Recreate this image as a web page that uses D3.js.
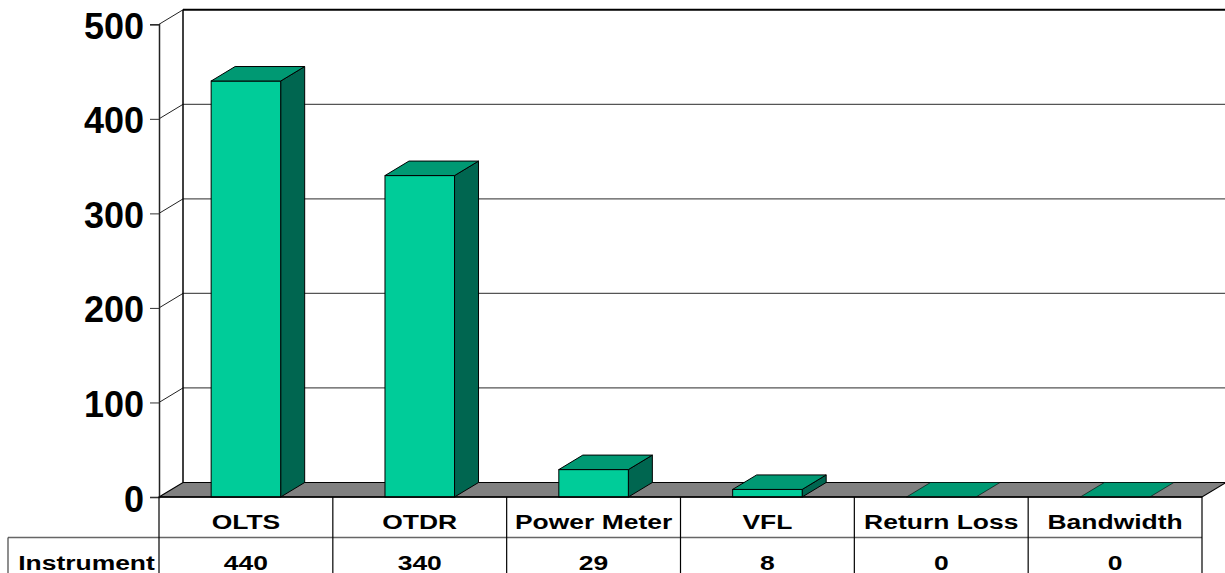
<!DOCTYPE html>
<meta charset="utf-8">
<script src="https://d3js.org/d3.v7.min.js"></script>
<style>
  body { margin: 0; background: #fff; }
  text { font-family: "Liberation Sans", Arial, sans-serif; font-weight: bold; fill: #000; }
</style>
<body>
<div id="chart"></div>
<script>
var categories = ["OLTS", "OTDR", "Power Meter", "VFL", "Return Loss", "Bandwidth"];
var values = [440, 340, 29, 8, 0, 0];
var seriesName = "Instrument";
var yTicks = [0, 100, 200, 300, 400, 500];

var W = 1225, H = 573;
var left = 159, right = 1202, floorY = 497, topY = 24.3;
var dx = 24, dy = -14.5;      // 3d depth offset
var rowMid = 537.5;

var svg = d3.select("#chart").append("svg")
  .attr("width", W).attr("height", H);

var x = d3.scaleBand().domain(categories).range([left, right]);
var y = d3.scaleLinear().domain([0, 500]).range([floorY, topY]);

// back wall gridlines
svg.selectAll(".grid")
  .data(yTicks.filter(function(t) { return t > 0 && t < 500; }))
  .enter().append("line")
    .attr("x1", left + dx).attr("x2", W)
    .attr("y1", function(d) { return y(d) + dy; })
    .attr("y2", function(d) { return y(d) + dy; })
    .attr("stroke", "#555").attr("stroke-width", 1.2);

// side wall diagonals
svg.selectAll(".diag")
  .data(yTicks.filter(function(t) { return t > 0; }))
  .enter().append("line")
    .attr("x1", left).attr("x2", left + dx)
    .attr("y1", function(d) { return y(d); })
    .attr("y2", function(d) { return y(d) + dy; })
    .attr("stroke", "#222").attr("stroke-width", 1);

// top of back wall
svg.append("line")
  .attr("x1", left + dx).attr("x2", W)
  .attr("y1", y(500) + dy).attr("y2", y(500) + dy)
  .attr("stroke", "#000").attr("stroke-width", 2);

// back wall left edge
svg.append("line")
  .attr("x1", left + dx).attr("x2", left + dx)
  .attr("y1", y(500) + dy).attr("y2", y(0) + dy)
  .attr("stroke", "#000").attr("stroke-width", 1.5);

// floor
svg.append("polygon")
  .attr("points", [[left, floorY], [left + dx, floorY + dy], [right + dx, floorY + dy], [right, floorY]].join(" "))
  .attr("fill", "#808080").attr("stroke", "#000").attr("stroke-width", 1.2);

// y axis
var yAxis = svg.append("g")
  .attr("transform", "translate(" + left + ",0)")
  .call(d3.axisLeft(y).tickValues(yTicks).tickSize(9).tickPadding(6));
yAxis.select(".domain").attr("stroke", "#222").attr("stroke-width", 1.5);
yAxis.selectAll(".tick line").attr("stroke", "#333");
yAxis.selectAll(".tick text")
  .attr("font-size", "36px")
  .attr("dy", "0.39em")
  .style("font-family", '"Liberation Sans", Arial, sans-serif')
  .style("font-weight", "bold");

// bars
var bw = x.bandwidth() * 0.4;
var bars = svg.selectAll(".bar")
  .data(categories.map(function(c, i) { return { name: c, value: values[i] }; }))
  .enter().append("g");

bars.each(function(d) {
  var g = d3.select(this);
  var x0 = x(d.name) + (x.bandwidth() - bw) / 2, x1 = x0 + bw;
  var yv = y(d.value), yb = y(0);
  if (d.value > 0) {
    g.append("polygon")
      .attr("points", [[x1, yv], [x1 + dx, yv + dy], [x1 + dx, yb + dy], [x1, yb]].join(" "))
      .attr("fill", "#006650").attr("stroke", "#000").attr("stroke-width", 1);
    g.append("rect")
      .attr("x", x0).attr("y", yv).attr("width", bw).attr("height", yb - yv)
      .attr("fill", "#00CC99").attr("stroke", "#000").attr("stroke-width", 1);
  }
  g.append("polygon")
    .attr("points", [[x0, yv], [x0 + dx, yv + dy], [x1 + dx, yv + dy], [x1, yv]].join(" "))
    .attr("fill", "#009973").attr("stroke", "#000").attr("stroke-width", d.value > 0 ? 1 : 0.6);
});

// data table
var bounds = categories.map(function(c) { return x(c); }).concat([right]);
svg.append("line")
  .attr("x1", left).attr("x2", right).attr("y1", floorY).attr("y2", floorY)
  .attr("stroke", "#000").attr("stroke-width", 1.5);
svg.append("line")
  .attr("x1", 8).attr("x2", right).attr("y1", rowMid).attr("y2", rowMid)
  .attr("stroke", "#666").attr("stroke-width", 1.5);
svg.append("line")
  .attr("x1", 8).attr("x2", 8).attr("y1", rowMid).attr("y2", H)
  .attr("stroke", "#444").attr("stroke-width", 1.2);
svg.selectAll(".sep")
  .data(bounds)
  .enter().append("line")
    .attr("x1", function(d) { return d; }).attr("x2", function(d) { return d; })
    .attr("y1", floorY).attr("y2", H)
    .attr("stroke", "#000").attr("stroke-width", 1.2);

function cellText(txt, cx, base) {
  svg.append("text")
    .attr("transform", "translate(" + cx + "," + base + ") scale(1.26,1)")
    .attr("text-anchor", "middle")
    .attr("font-size", "21px")
    .text(txt);
}
categories.forEach(function(c, i) {
  var cx = x(c) + x.bandwidth() / 2;
  cellText(c, cx, 529);
  cellText(values[i], cx, 569.5);
});
cellText(seriesName, (8 + left) / 2 + 3, 569.5);
</script>
</body>
